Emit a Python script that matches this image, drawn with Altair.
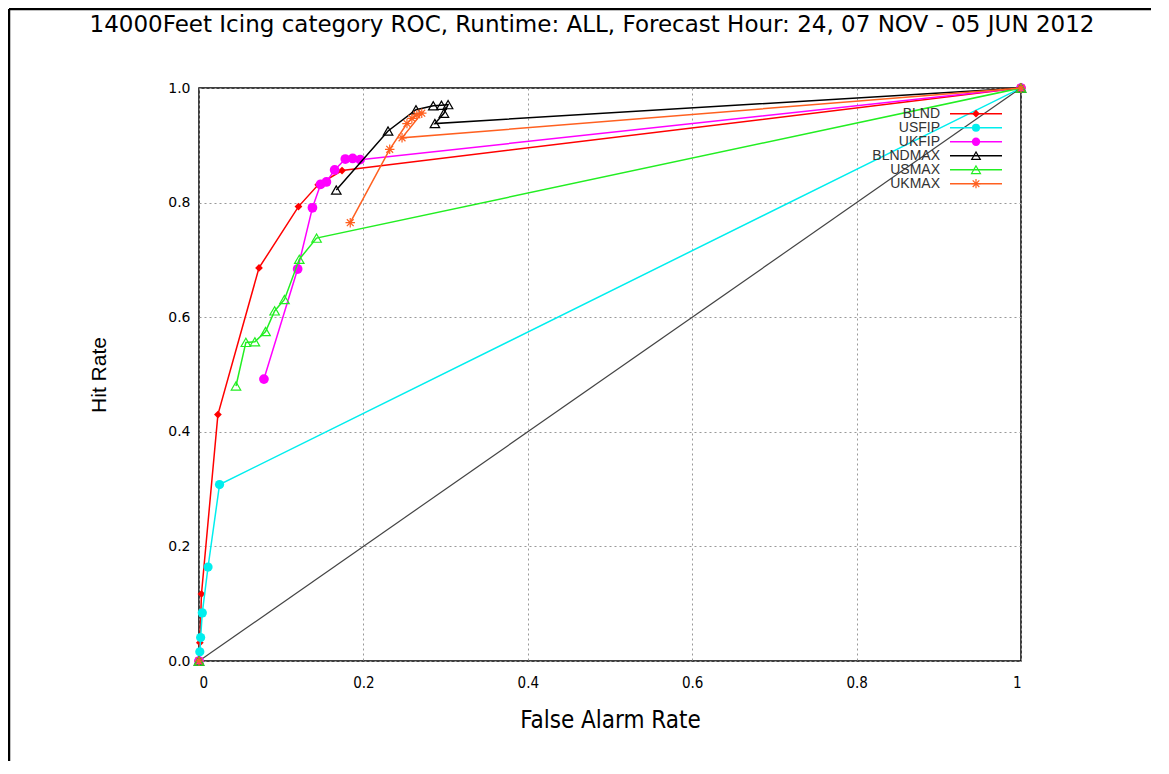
import altair as alt
import pandas as pd

series_names = ["BLND", "USFIP", "UKFIP", "BLNDMAX", "USMAX", "UKMAX"]

blnd_x = [0.0, 0.001, 0.003, 0.023, 0.073, 0.121, 0.145, 0.174, 1.0]
blnd_y = [0.0, 0.032, 0.117, 0.430, 0.686, 0.793, 0.831, 0.856, 1.0]

usfip_x = [0.0, 0.001, 0.002, 0.004, 0.011, 0.025, 1.0]
usfip_y = [0.0, 0.016, 0.041, 0.084, 0.164, 0.308, 1.0]

ukfip_x = [0.079, 0.120, 0.138, 0.148, 0.155, 0.165, 0.178, 0.187, 0.196, 1.0]
ukfip_y = [0.492, 0.684, 0.791, 0.832, 0.836, 0.857, 0.876, 0.877, 0.875, 1.0]

blndmax_x = [0.167, 0.230, 0.264, 0.285, 0.295, 0.303, 0.298, 0.287, 1.0]
blndmax_y = [0.822, 0.925, 0.962, 0.969, 0.970, 0.971, 0.956, 0.938, 1.0]

usmax_x = [0.045, 0.057, 0.068, 0.081, 0.092, 0.104, 0.122, 0.143, 1.0]
usmax_y = [0.480, 0.556, 0.557, 0.575, 0.611, 0.631, 0.701, 0.738, 1.0]

ukmax_x = [0.184, 0.232, 0.253, 0.259, 0.265, 0.271, 0.247, 1.0]
ukmax_y = [0.765, 0.893, 0.938, 0.947, 0.953, 0.956, 0.913, 1.0]

# series that also show an unconnected marker at the origin
origin_only = ["UKFIP", "BLNDMAX", "USMAX", "UKMAX"]

diag_x = [0.0, 1.0]
diag_y = [0.0, 1.0]

x_ticks = [0, 0.2, 0.4, 0.6, 0.8, 1]
y_ticks = [0, 0.2, 0.4, 0.6, 0.8, 1.0]

title_text = "14000Feet Icing category ROC, Runtime: ALL, Forecast Hour: 24, 07 NOV - 05 JUN 2012"

colors = ["#ff0000", "#00eeee", "#ff00ff", "#000000", "#22ee22", "#ff6020"]
star = "M-1,0H1M0,-1V1M-0.72,-0.72L0.72,0.72M-0.72,0.72L0.72,-0.72"
shapes = ["diamond", "circle", "circle", "triangle-up", "triangle-up", star]
filled = [True, True, True, False, False, False]
sizes = [60, 85, 95, 90, 90, 90]

xs_all = [blnd_x, usfip_x, ukfip_x, blndmax_x, usmax_x, ukmax_x]
ys_all = [blnd_y, usfip_y, ukfip_y, blndmax_y, usmax_y, ukmax_y]

rows = []
for name, xs, ys in zip(series_names, xs_all, ys_all):
    for i, (a, b) in enumerate(zip(xs, ys)):
        rows.append({"series": name, "idx": i + 1, "x": a, "y": b, "connected": True})
    if name in origin_only:
        rows.append({"series": name, "idx": 0, "x": 0.0, "y": 0.0, "connected": False})
df = pd.DataFrame(rows)

FONT = "Liberation Sans, Arial, sans-serif"
NARROW = "Liberation Sans Narrow, DejaVu Sans Condensed, Arial, sans-serif"

xscale = alt.Scale(domain=[0, 1], nice=False, zero=False)
yscale = alt.Scale(domain=[0, 1], nice=False, zero=False)
xaxis = alt.Axis(values=x_ticks, format="~g", title="False Alarm Rate",
                 labelFont=NARROW, labelFontSize=15, labelPadding=14,
                 titleFont=NARROW, titleFontSize=24, titleFontWeight="normal",
                 titlePadding=18, grid=True)
yaxis = alt.Axis(values=y_ticks, format=".1f", title="Hit Rate",
                 labelFont="DejaVu Sans, sans-serif", labelFontSize=14, labelPadding=9,
                 titleFont=FONT, titleFontSize=21, titleFontWeight="normal",
                 titlePadding=58, grid=True)

X = alt.X("x:Q", scale=xscale, axis=xaxis)
Y = alt.Y("y:Q", scale=yscale, axis=yaxis)

diag = alt.Chart(pd.DataFrame({"x": diag_x, "y": diag_y})).mark_line(
    color="#444444", strokeWidth=1.2).encode(x=X, y=Y)

layers = [diag]
for name, c, shp, fl, sz in zip(series_names, colors, shapes, filled, sizes):
    sub = df[df.series == name]
    line = alt.Chart(sub[sub.connected]).mark_line(color=c, strokeWidth=1.5).encode(
        x=X, y=Y, order="idx:Q")
    pts = alt.Chart(sub).mark_point(shape=shp, filled=fl, color=c, size=sz,
                                    opacity=1, strokeWidth=1.2).encode(x=X, y=Y)
    layers += [line, pts]

# frame lines of the original figure and the title as a text mark
one_df = pd.DataFrame({"title": [title_text]})
left_border = alt.Chart(one_df).mark_rule(color="black", strokeWidth=2.5).encode(
    x=alt.value(-190), y=alt.value(-79), y2=alt.value(680))
top_border = alt.Chart(one_df).mark_rule(color="black", strokeWidth=2.5).encode(
    x=alt.value(-190), x2=alt.value(970), y=alt.value(-79))
title_mark = alt.Chart(one_df).mark_text(fontSize=23, font="DejaVu Sans, sans-serif",
                                         color="black", align="center",
                                         baseline="middle").encode(
    x=alt.value(393), y=alt.value(-63), text="title:N")
layers += [left_border, top_border, title_mark]

main = alt.layer(*layers)

# legend (labels right-aligned, sample to the right)
leg_df = pd.DataFrame({"series": series_names, "filled": filled})
LY = alt.Y("series:N", scale=alt.Scale(domain=series_names, range=[18.7, 102.7], padding=0),
           axis=None)
LC = alt.Color("series:N", scale=alt.Scale(domain=series_names, range=colors), legend=None)
LS = alt.Shape("series:N", scale=alt.Scale(domain=series_names, range=shapes), legend=None)
LZ = alt.Size("series:N", scale=alt.Scale(domain=series_names, range=sizes), legend=None)

leg_text = alt.Chart(leg_df).mark_text(align="right", baseline="middle", fontSize=14,
                                       font=FONT, color="#333333").encode(
    x=alt.value(741), y=LY, text="series:N")
leg_rule = alt.Chart(leg_df).mark_rule(strokeWidth=1.5).encode(
    x=alt.value(751), x2=alt.value(803), y=LY, color=LC)
leg_pts_f = alt.Chart(leg_df).transform_filter("datum.filled").mark_point(
    filled=True, opacity=1).encode(x=alt.value(777), y=LY, color=LC, shape=LS, size=LZ)
leg_pts_u = alt.Chart(leg_df).transform_filter("!datum.filled").mark_point(
    filled=False, opacity=1, strokeWidth=1.2).encode(x=alt.value(777), y=LY, color=LC,
                                                    shape=LS, size=LZ)
legend = alt.layer(leg_text, leg_rule, leg_pts_f, leg_pts_u)

chart = alt.layer(main, legend).resolve_scale(y="independent").properties(
    width=822, height=573,
    autosize=alt.AutoSizeParams(type="none"),
    padding={"left": 191, "top": 80, "right": 130, "bottom": 100},
).configure_view(stroke="#000000", strokeWidth=1.5).configure_axis(
    domain=False, ticks=False, tickSize=0, gridColor="#999999", gridDash=[2, 3],
    gridWidth=1, labelColor="#000000", titleColor="#000000")

chart.save("out.html", embed_options={"renderer": "svg", "actions": False})
